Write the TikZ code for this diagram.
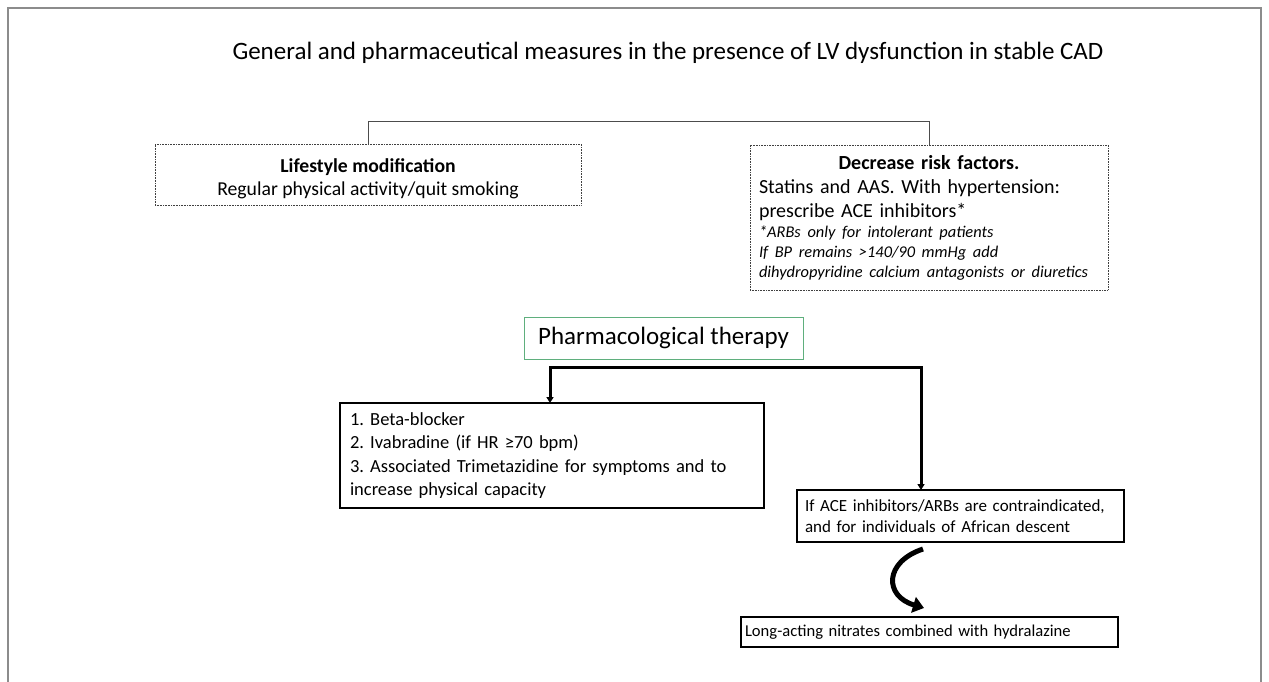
\documentclass[tikz,border=0pt]{standalone}
\usepackage{fontspec}
\setmainfont{Carlito}
\usetikzlibrary{arrows.meta}
\setlength{\parindent}{0pt}
\frenchspacing
\definecolor{framegray}{RGB}{140,140,140}
\definecolor{boxgreen}{RGB}{95,175,125}
\begin{document}
\begin{tikzpicture}[x=1pt,y=-1pt,
    every node/.style={inner sep=0pt, outer sep=0pt},
    dotbox/.style={draw=black!75, dash pattern=on 0.8pt off 0.8pt, line width=0.9pt},
    plainbox/.style={draw=black, line width=1.2pt},
    heavybox/.style={draw=black, line width=2.8pt},
    thinline/.style={draw=black!70, line width=1pt},
    forkline/.style={draw=black, line width=3pt, -{Triangle[length=6pt,width=7pt]}},
    curvearrow/.style={draw=black, line width=5pt, -{Triangle[length=11pt,width=16pt]}}]
    \useasboundingbox (0,0) rectangle (1269,681);
    \clip (0,0) rectangle (1269,681);
    \draw [framegray, line width=1.5pt] (8,8) rectangle (1261,700);
    % title
    \node [font=\fontsize{25}{30}\selectfont] (title) at (668,53) {General and pharmaceutical measures in the presence of LV dysfunction in stable CAD};
    % general measures
    \node [dotbox, minimum width=426pt, minimum height=61pt, align=center, font=\fontsize{19.7}{23}\selectfont] (life) at (368,174.5) {\rule{0pt}{22pt}\textbf{Lifestyle modification}\\Regular physical activity/quit smoking};
    \node [dotbox, minimum width=358pt, minimum height=145pt, text width=340pt, font=\fontsize{20}{24}\selectfont] (risk) at (929,217.5) {\raggedright\hyphenpenalty=10000 {\centering\textbf{Decrease risk factors.}\par}Statins and AAS. With hypertension:\\prescribe ACE inhibitors*\par{\itshape\fontsize{16.4}{20}\selectfont *ARBs only for intolerant patients\\If BP remains >140/90 mmHg add\\dihydropyridine calcium antagonists or diuretics\par}};
    \draw [thinline] (life.north) -- ++(0,-23) -| (risk.north);
    % drugs
    \node [draw=boxgreen, line width=1pt, minimum width=279pt, minimum height=42pt, font=\fontsize{25}{30}\selectfont] (pharm) at (663.5,338) {Pharmacological therapy};
    \node [plainbox, minimum width=424pt, minimum height=105pt, text width=404pt, align=left, font=\fontsize{18.5}{23.5}\selectfont] (beta) at (552,455.5) {1. Beta-blocker\\2. Ivabradine (if HR ≥70 bpm)\\3. Associated Trimetazidine for symptoms and to\\increase physical capacity};
    \node [heavybox, minimum width=327pt, minimum height=52pt, text width=311pt, align=left, font=\fontsize{17}{21}\selectfont] (ace) at (960.5,516) {If ACE inhibitors/ARBs are contraindicated,\\and for individuals of African descent};
    \node [heavybox, minimum width=377pt, minimum height=30pt, text width=369pt, align=left, font=\fontsize{16.6}{20}\selectfont] (nitr) at (929.5,632) {Long-acting nitrates combined with hydralazine};
    \coordinate (forkL) at (550,367);
    \coordinate (forkR) at (921,367);
    \draw [forkline] (forkR) -- (forkL) -- (forkL |- beta.north);
    \draw [forkline] (forkL) -- (forkR) -- (forkR |- ace.north);
    \coordinate (bendTop) at (923,549);
    \coordinate (bendEnd) at (924,608);
    \draw [curvearrow] (bendTop) .. controls (884,562) and (884,596) .. (bendEnd);
\end{tikzpicture}
\end{document}
